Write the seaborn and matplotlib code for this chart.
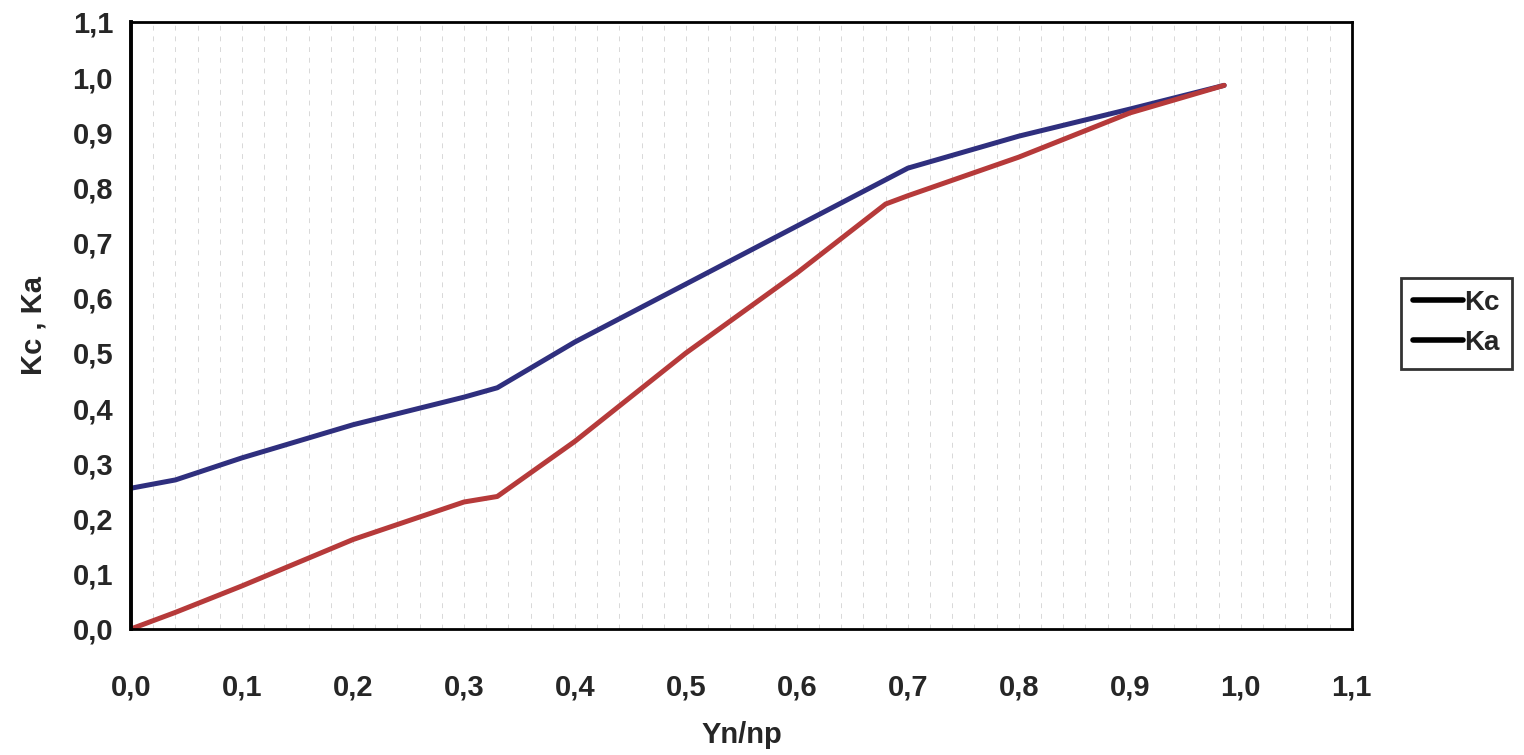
import matplotlib
matplotlib.use('Agg')
import matplotlib.pyplot as plt
import matplotlib.ticker as mticker
from matplotlib.lines import Line2D
import seaborn as sns
import pandas as pd
import numpy as np

# datos
yn_np_kc = [0.0, 0.04, 0.1, 0.2, 0.3, 0.33, 0.4, 0.5, 0.6, 0.7, 0.8, 0.9, 0.985]
kc = [0.255, 0.27, 0.31, 0.37, 0.42, 0.437, 0.52, 0.625, 0.73, 0.835, 0.893, 0.942, 0.985]
yn_np_ka = [0.0, 0.04, 0.1, 0.2, 0.3, 0.33, 0.4, 0.5, 0.6, 0.68, 0.7, 0.8, 0.9, 0.985]
ka = [0.0, 0.03, 0.078, 0.162, 0.23, 0.24, 0.34, 0.5, 0.645, 0.77, 0.785, 0.855, 0.935, 0.985]
series = ['Kc', 'Ka']
colors = {'Kc': '#2f2f7e', 'Ka': '#b63a3a'}

df = pd.concat([
    pd.DataFrame({'x': yn_np_kc, 'y': kc, 'serie': 'Kc'}),
    pd.DataFrame({'x': yn_np_ka, 'y': ka, 'serie': 'Ka'}),
])

sns.set_style('white')
plt.rcParams['font.family'] = ['Liberation Sans', 'DejaVu Sans']

fig = plt.figure(figsize=(15.24, 7.55), dpi=100)
ax = fig.add_axes([0.086, 0.167, 0.801, 0.804])

sns.lineplot(data=df, x='x', y='y', hue='serie', palette=colors, sort=False,
             estimator=None, linewidth=3.6, ax=ax, legend=False)

ax.set_xlim(0, 1.1)
ax.set_ylim(0, 1.1)
ticks = np.round(np.arange(0, 1.101, 0.1), 1)
ax.set_xticks(ticks)
ax.set_yticks(ticks)
fmt = mticker.FuncFormatter(lambda v, p: f'{v:.1f}'.replace('.', ','))
ax.xaxis.set_major_formatter(fmt)
ax.yaxis.set_major_formatter(fmt)
ax.xaxis.set_minor_locator(mticker.MultipleLocator(0.02))
ax.grid(which='both', axis='x', color='#d8d8d8', linestyle=(0, (5, 6)), linewidth=0.7)
ax.tick_params(axis='both', which='major', direction='out', length=6, width=1.5,
               labelsize=21, color='black')
ax.tick_params(axis='x', pad=26)
ax.tick_params(axis='y', pad=7)
ax.tick_params(which='minor', length=0)
for lab in ax.get_xticklabels() + ax.get_yticklabels():
    lab.set_fontweight('bold')
for s in ax.spines.values():
    s.set_color('black')
    s.set_linewidth(2.0)
ax.spines['left'].set_linewidth(2.8)

ax.set_xlabel('Yn/np', fontsize=21, fontweight='bold', labelpad=14)
ax.set_ylabel('Kc , Ka', fontsize=21, fontweight='bold', labelpad=18)

handles = [Line2D([0], [0], color='black', linewidth=4) for _ in series]
leg = fig.legend(handles, series, loc='center left', bbox_to_anchor=(0.919, 0.572),
                 frameon=True, fancybox=False, edgecolor='black', handlelength=1.8,
                 handletextpad=0.05, prop={'weight': 'bold', 'size': 20},
                 borderpad=0.45, labelspacing=0.5, borderaxespad=0)
leg.get_frame().set_linewidth(2.0)

fig.savefig('out.png', dpi=100)
